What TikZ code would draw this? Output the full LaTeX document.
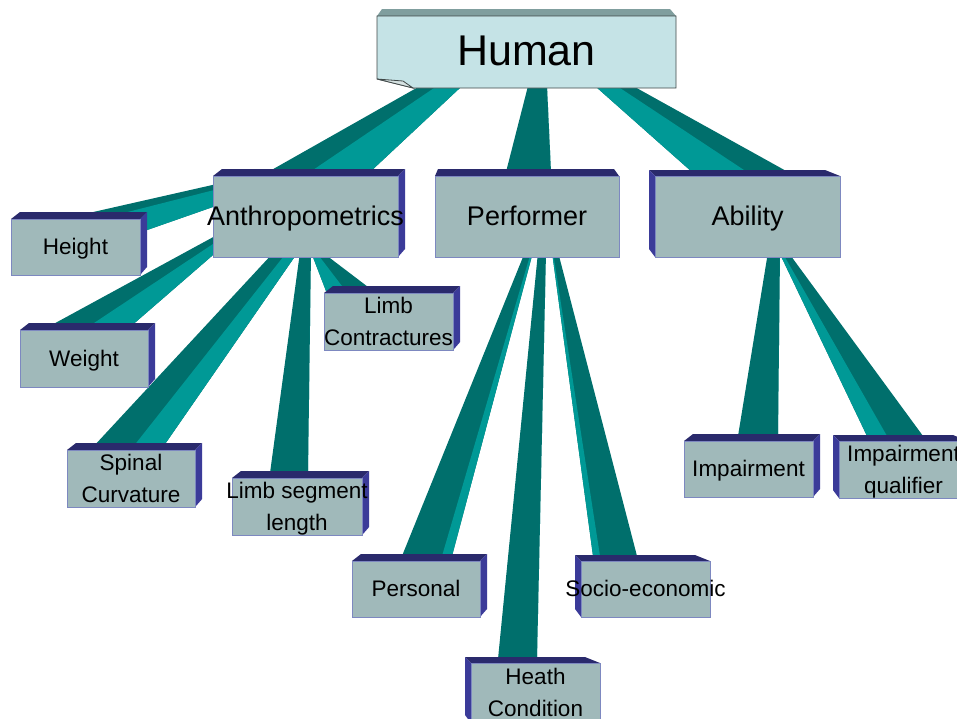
\documentclass[tikz,border=0pt]{standalone}
\usepackage{fontspec}
\setmainfont{Liberation Sans}
\definecolor{boxfront}{HTML}{A0B9BA}
\definecolor{boxedge}{HTML}{7D88C0}
\definecolor{topc}{HTML}{2A2A6C}
\definecolor{sidec}{HTML}{3B3B99}
\definecolor{humanfront}{HTML}{C5E3E6}
\definecolor{humantop}{HTML}{809E9E}
\definecolor{humanedge}{HTML}{404848}
\definecolor{foldc}{HTML}{D6E2E2}
\definecolor{ribdark}{HTML}{006F6C}
\definecolor{riblight}{HTML}{009996}
\pgfdeclarelayer{ribbons}
\pgfdeclarelayer{faces}
\pgfsetlayers{ribbons,faces,main}
% zero-width line with a full line-box strut, so long labels spill over
% the box edge and every line is centred on its ascent/descent box
\newcommand\cbox[1]{\makebox[0pt]{\rule[-0.212em]{0pt}{1.117em}#1}}
% two-tone ribbon: parent #1 points a,split,b ; child #5 points c,split,d
% (offsets from the north west corner of each node)
\newcommand\ribbon[8]{%
  \fill[ribdark] ([shift={(#2)}]#1.north west) -- ([shift={(#4)}]#1.north west)
     -- ([shift={(#8)}]#5.north west) -- ([shift={(#6)}]#5.north west) -- cycle;
  \fill[riblight] ([shift={(#3)}]#1.north west) -- ([shift={(#4)}]#1.north west)
     -- ([shift={(#8)}]#5.north west) -- ([shift={(#7)}]#5.north west) -- cycle;
}
% depth faces to the right of a box
\newcommand\depthR[1]{%
  \fill[topc] (#1.north west) -- ([shift={(9,-7)}]#1.north west)
     -- ([shift={(7,-7)}]#1.north east) -- (#1.north east) -- cycle;
  \fill[sidec] (#1.north east) -- ([shift={(7,-7)}]#1.north east)
     -- ([shift={(7,-8)}]#1.south east) -- (#1.south east) -- cycle;
}
% depth faces to the left of a box
\newcommand\depthL[1]{%
  \fill[topc] (#1.north west) -- ([shift={(-6,-6)}]#1.north west)
     -- ([shift={(-15,-6)}]#1.north east) -- (#1.north east) -- cycle;
  \fill[sidec] (#1.north west) -- ([shift={(-6,-6)}]#1.north west)
     -- ([shift={(-6,-8)}]#1.south west) -- (#1.south west) -- cycle;
}
\begin{document}
\begin{tikzpicture}[x=1pt,y=-1pt,
  leaf/.style={draw=boxedge, fill=boxfront, line width=0.9pt, anchor=north west,
    inner sep=0pt, outer sep=0pt, align=center, minimum width=129pt,
    minimum height=56pt, font=\fontsize{22.5}{32}\selectfont},
  mid/.style={leaf, minimum width=185pt, minimum height=81pt,
    font=\fontsize{27}{32}\selectfont}]
\useasboundingbox (0,0) rectangle (957,718);

% top level
\node[anchor=north west, inner sep=0pt, outer sep=0pt, minimum width=299pt,
  minimum height=72pt, font=\fontsize{43}{50}\selectfont] (human) at (377,16)
  {\raisebox{3pt}{Human}};

% second level
\node[mid] (anthro) at (213,176) {\cbox{Anthropometrics}};
\node[mid, minimum width=184pt] (perf) at (435,176) {\cbox{Performer}};
\node[mid] (abil) at (655,176) {\cbox{Ability}};

% leaves
\node[leaf] (height) at (11,219) {\cbox{Height}};
\node[leaf, minimum width=128pt, minimum height=57pt] (weight) at (20,330) {\cbox{Weight}};
\node[leaf, minimum width=128pt, minimum height=57pt] (spinal) at (67,450) {\cbox{Spinal}\\\cbox{Curvature}};
\node[leaf, minimum width=130pt, minimum height=55pt] (limbseg) at (232,478) {\cbox{Limb segment}\\\cbox{length}};
\node[leaf] (limbcon) at (324,293) {\cbox{Limb}\\\cbox{Contractures}};
\node[leaf, minimum width=128pt] (personal) at (352,561) {\cbox{Personal}};
\node[leaf, minimum height=60pt] (heath) at (471,663) {\cbox{Heath}\\\cbox{Condition}};
\node[leaf] (socio) at (581,561) {\cbox{Socio-economic}};
\node[leaf] (impair) at (684,441) {\cbox{Impairment}};
\node[leaf] (impq) at (839,441) {\cbox{Impairment}\\\cbox{qualifier}};

% box faces
\begin{pgfonlayer}{faces}
  \fill[humantop] (human.north west) -- ([shift={(5,-7)}]human.north west)
     -- ([shift={(-6,-7)}]human.north east) -- (human.north east) -- cycle;
  \filldraw[fill=humanfront, draw=humanedge, line width=0.8pt]
     (human.north west) -- (human.north east) -- (human.south east)
     -- ([shift={(36,0)}]human.south west) -- ([shift={(0,-9)}]human.south west) -- cycle;
  \filldraw[fill=foldc, draw=humanedge, line width=0.8pt]
     ([shift={(0,-9)}]human.south west) -- ([shift={(26,-7)}]human.south west)
     -- ([shift={(36,0)}]human.south west) -- cycle;
  \fill[topc] (perf.north west) -- ([shift={(3,-7)}]perf.north west)
     -- ([shift={(-5,-7)}]perf.north east) -- (perf.north east) -- cycle;
  \depthR{anthro}
  \depthL{abil}
  \depthR{height}
  \depthR{weight}
  \depthR{spinal}
  \depthR{limbseg}
  \depthR{limbcon}
  \depthR{personal}
  \depthL{heath}
  \depthL{socio}
  \depthR{impair}
  \depthL{impq}
\end{pgfonlayer}

% connectors
\begin{pgfonlayer}{ribbons}
  \ribbon{human}{43,70}{60,70}{85,70}{anthro}{55,-4}{97,-4}{157,-4}
  \ribbon{human}{151,70}{170,70}{170,70}{perf}{71,-4}{116,-4}{116,-4}
  \ribbon{human}{256,70}{240,70}{218,70}{abil}{133,-4}{92,-4}{37,-4}
  \ribbon{anthro}{17,5}{17,10}{17,25}{height}{69,-4}{89,0}{119,17}
  \ribbon{anthro}{15,53}{15,58}{15,66}{weight}{28,-3}{68,-3}{110,-3}
  \ribbon{anthro}{61,76}{74,76}{85,76}{spinal}{26,-3}{66,-3}{96,-3}
  \ribbon{anthro}{87,76}{98,76}{98,76}{limbseg}{38,-5}{76,-5}{76,-5}
  \ribbon{anthro}{109,76}{103,76}{98,76}{limbcon}{48,-3}{21,-3}{2,-2}
  \ribbon{perf}{90,76}{96,76}{98,76}{personal}{50,-5}{90,-5}{100,-5}
  \ribbon{perf}{103,76}{111,76}{111,76}{heath}{27,-4}{66,-4}{66,-4}
  \ribbon{perf}{123,76}{118,76}{117,76}{socio}{56,-5}{19,-5}{12,-5}
  \ribbon{abil}{113,76}{125,76}{125,76}{impair}{54,-5}{94,-5}{94,-5}
  \ribbon{abil}{133,76}{127,76}{124,76}{impq}{84,-5}{48,-5}{28,-5}
\end{pgfonlayer}
\end{tikzpicture}
\end{document}
